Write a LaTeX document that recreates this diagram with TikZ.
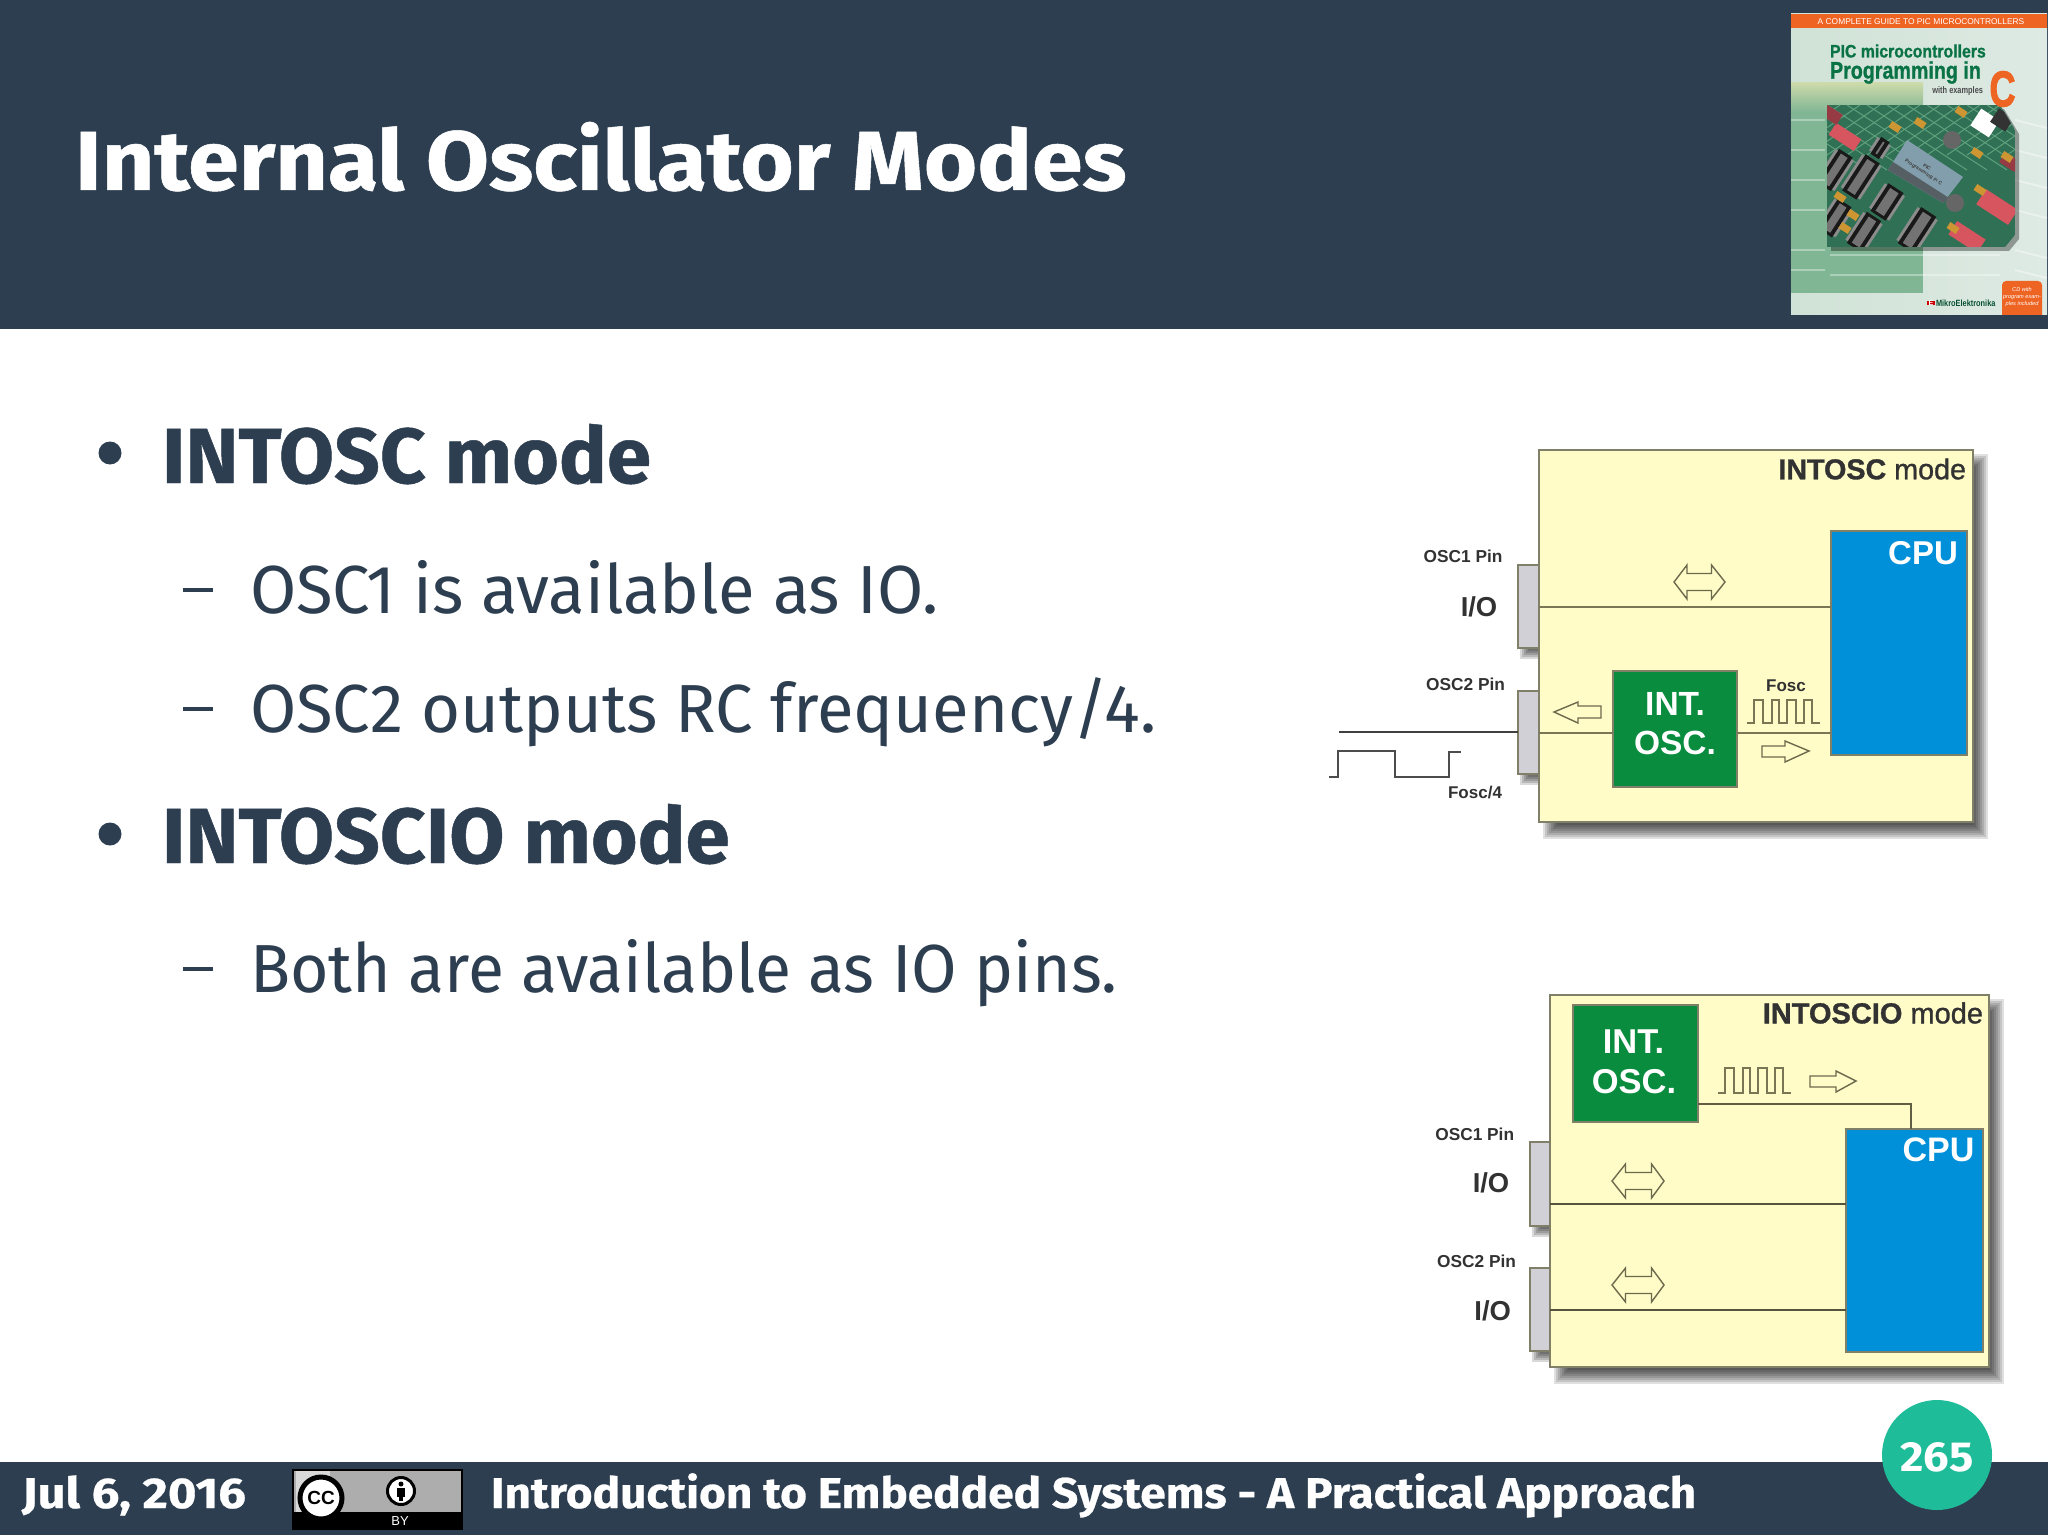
\documentclass[tikz,border=0pt]{standalone}
\usepackage{fontspec}
\setmainfont[BoldFeatures={FakeBold=0.6}]{Fira Sans}
\newfontfamily\arial{Liberation Sans}
\newfontfamily\arialm[FakeBold=1.1]{Liberation Sans}
\newfontfamily\arialh[FakeBold=2.5]{Liberation Sans}
\usetikzlibrary{calc}
\definecolor{navy}{RGB}{45,62,80}
\definecolor{teal}{RGB}{30,188,152}
\definecolor{paper}{RGB}{255,252,200}
\definecolor{edge}{RGB}{128,128,105}
\definecolor{wire}{RGB}{120,118,85}
\definecolor{osc}{RGB}{9,140,62}
\definecolor{cpu}{RGB}{0,144,218}
\definecolor{pin}{RGB}{208,208,214}
\definecolor{ink}{RGB}{50,50,50}
\definecolor{bookg}{RGB}{10,115,70}
\definecolor{booko}{RGB}{238,100,35}
\definecolor{pcb}{RGB}{48,112,85}
\definecolor{trace}{RGB}{95,160,125}
\definecolor{covl}{RGB}{208,226,214}
\definecolor{covr}{RGB}{222,234,228}
\definecolor{covg}{RGB}{128,182,148}
\definecolor{covb}{RGB}{205,218,170}
\definecolor{lcdc}{RGB}{130,158,172}
\definecolor{lcdd}{RGB}{85,95,100}
\definecolor{dipr}{RGB}{215,85,95}
\definecolor{jump}{RGB}{205,150,50}
\newcommand{\px}[1]{\fontsize{\dimexpr#1pt/2\relax}{\dimexpr#1pt*3/5\relax}\selectfont}
\newcommand{\softshadow}[4]{\foreach \s in {0,2,4,6,8,10,12,14}{\fill[black,opacity=.12] (#1+18-\s,#2+18-\s) rectangle (#3+1+\s,#4+3+\s);}}
\newcommand{\pinshadow}[4]{\foreach \s in {0,2,4,6,8}{\fill[black,opacity=.15] (#1+10-\s,#2+10-\s) rectangle (#3,#4+3+\s);}}
\newcommand{\dblarrow}[6]{\draw[blockarrow] (#1,#5) -- (#2,#6) -- (#2,#6+8.5) -- (#3,#6+8.5) -- (#3,#6) -- (#4,#5) -- (#3,#5+#5-#6) -- (#3,#5+#5-#6-8.5) -- (#2,#5+#5-#6-8.5) -- (#2,#5+#5-#6) -- cycle;}
\newcommand{\wavepulse}[3]{\draw[wave] (#1,#3) -- (#1+7,#3) -- (#1+7,#2) -- (#1+16,#2) -- (#1+16,#3) -- (#1+25,#3) -- (#1+25,#2) -- (#1+32,#2) -- (#1+32,#3) -- (#1+40,#3) -- (#1+40,#2) -- (#1+49,#2) -- (#1+49,#3) -- (#1+57,#3) -- (#1+57,#2) -- (#1+65,#2) -- (#1+65,#3) -- (#1+73,#3);}
\newcommand{\bpart}[5]{\begin{scope}[shift={(#1,#2)},rotate=-33]\fill[#5] (-#3/2,-#4/2) rectangle (#3/2,#4/2);\end{scope}}
\newcommand{\bchip}[4]{\begin{scope}[shift={(#1,#2)},rotate=-33]\fill[black!45] (-#3/2-3,-#4/2+2) rectangle (#3/2+3,#4/2-2);\fill[black!90] (-#3/2,-#4/2) rectangle (#3/2,#4/2);\fill[black!55] (-#3/2+4,-#4/2+3) rectangle (#3/2-4,#4/2-3);\end{scope}}
\tikzset{
 rbox/.style={rectangle,inner sep=0pt,outer sep=0pt,draw=edge,line width=1pt},
 lbl/.style={inner sep=0pt,outer sep=0pt,font=\arial},
 wireline/.style={draw=wire,line width=1pt},
 wave/.style={draw=wire,line width=.8pt},
 blockarrow/.style={draw=wire!90!black,line width=.7pt,fill=paper,line join=miter},
 txt/.style={inner sep=0pt,outer sep=0pt,anchor=base west,text=navy},
 foot/.style={inner sep=0pt,outer sep=0pt,anchor=base west,text=white,font=\bfseries},
}
\begin{document}
\begin{tikzpicture}[x=.5pt,y=-.5pt]
\useasboundingbox (0,0) rectangle (2048,1535);
\fill[white] (0,0) rectangle (2048,1535);
% header / footer
\fill[navy] (0,0) rectangle (2048,329);
\fill[navy] (0,1462) rectangle (2048,1535);
\node[txt,font=\bfseries\px{84},text=white,xscale=1.088] (title) at (75,190) {Internal Oscillator Modes};
% book cover
\begin{scope}
\clip (1791,14) rectangle (2047,315);
\shade[left color=covl, right color=covr] (1791,14) rectangle (2047,315);
\fill[covg] (1791,83) rectangle (1923,293);
\shade[top color=covb,bottom color=covg] (1791,83) rectangle (1923,112);
\foreach \y in {120,150,180,210,250,270}{\draw[white,opacity=.35,line width=1pt] (1791,\y) -- (1825,\y);\draw[white,opacity=.4,line width=1pt] (2015,\y) -- (2047,\y+8);}
\foreach \y in {255,275}{\draw[white,opacity=.35,line width=1pt] (1830,\y) -- (2000,\y);}
\fill[booko] (1791,14) rectangle (2047,28);
\fill[black,opacity=.35] (1831,109) -- (2004,109) -- (2019,134) -- (2019,239) -- (2009,251) -- (1831,251) -- cycle;
\begin{scope}
\clip (1827,105) -- (2000,105) -- (2015,130) -- (2015,235) -- (2005,247) -- (1827,247) -- cycle;
\fill[pcb] (1827,105) rectangle (2015,247);
\foreach \o in {-60,-40,...,200}{\draw[trace,line width=.5pt] (1827+\o,105) -- (1927+\o,170);\draw[trace,line width=.5pt] (1900+\o,105) -- (1827+\o,155);}
\bchip{1861}{177}{17}{43}
\bchip{1887}{202}{18}{33}
\bchip{1917}{230}{18}{43}
\bchip{1864}{232}{17}{37}
\bchip{1880}{148}{10}{20}
\bchip{1835}{170}{16}{40}
\bchip{1835}{218}{16}{36}
\fill[lcdc] (1907,140) -- (1963,177) -- (1943,203) -- (1888,170) -- cycle;
\fill[lcdd] (1893,162) -- (1949,198) -- (1943,203) -- (1888,170) -- cycle;
\node[lbl,font=\arial\bfseries\px{5},rotate=-33,text=black!75,align=center] (lcd) at (1925,170) {PIC\\Programming in C};
\bpart{1845}{137}{30}{14}{dipr}
\bpart{1832}{115}{18}{12}{dipr!70!black}
\bpart{1997}{207}{38}{18}{dipr}
\bpart{1967}{237}{34}{16}{dipr}
\bpart{2010}{162}{18}{12}{dipr!70!black}
\fill[black!60] (1952,140) circle (9);
\fill[black!60] (1955,203) circle (9);
\bpart{1985}{123}{22}{20}{white}
\bpart{2002}{120}{18}{16}{black!80}
\foreach \x/\y in {1920/123,1895/127,1961/112,1977/153,2007/157,1980/190,1953/228,1840/197,1853/215,1845/228}{\bpart{\x}{\y}{11}{7}{jump}}
\end{scope}
\fill[booko,rounded corners=2pt] (2002,281) rectangle (2042,330);
\end{scope}
\node[lbl,font=\arial\px{8.4},text=white] (guide) at (1921,22) {A COMPLETE GUIDE TO PIC MICROCONTROLLERS};
\node[lbl,font=\arialm\bfseries\px{18},text=bookg,xscale=.88,anchor=west] (t1) at (1830,51) {PIC microcontrollers};
\node[lbl,font=\arialm\bfseries\px{24},text=bookg,xscale=.82,anchor=west] (t2) at (1830,72.5) {Programming in};
\node[lbl,font=\arial\bfseries\px{9.5},text=black!70,xscale=.78,anchor=east] (t3) at (1983,91) {with examples};
\node[lbl,font=\arialh\bfseries\px{50},text=booko,xscale=.72] (t4) at (2002.5,89) {C};
\node[lbl,font=\arial\bfseries\px{7},text=white,fill=red!80!black,minimum width=4pt] (t5a) at (1931,303) {E};
\node[lbl,font=\arial\bfseries\px{9},text=bookg!70!black,xscale=.82,anchor=west] (t5) at (1936,303) {MikroElektronika};
\node[lbl,font=\arial\itshape\px{5.6},text=white,align=center] (t6) at (2022,297) {CD with\\program exam-\\ples included};
% body text
\fill[navy] (110,453) circle (11.5);
\fill[navy] (110,834) circle (11.5);
\fill[navy] (183,588) rectangle (213,592);
\fill[navy] (183,707) rectangle (213,711);
\fill[navy] (183,967) rectangle (213,971);
\node[txt,font=\bfseries\px{78},xscale=1.025] (b1) at (162,483) {INTOSC mode};
\node[txt,font=\px{68},xscale=.985] (b2) at (250,613) {OSC1 is available as IO.};
\node[txt,font=\px{68},xscale=.985] (b3) at (250,732) {OSC2 outputs RC frequency/4.};
\node[txt,font=\bfseries\px{78},xscale=1.025] (b4) at (162,863) {INTOSCIO mode};
\node[txt,font=\px{68},xscale=.97] (b5) at (250,992) {Both are available as IO pins.};
% diagram 1
\softshadow{1539}{450}{1973}{822}
\pinshadow{1518}{565}{1539}{648}
\pinshadow{1518}{691}{1539}{774}
\node[rbox,fill=paper,minimum width=217pt,minimum height=186pt] (boxA) at (1756,636) {};
\node[rbox,fill=pin,minimum width=10.5pt,minimum height=41.5pt] (pinA1) at (1528.5,606.5) {};
\node[rbox,fill=pin,minimum width=10.5pt,minimum height=41.5pt] (pinA2) at (1528.5,732.5) {};
\node[rbox,fill=cpu,minimum width=68pt,minimum height=112pt] (cpuA) at (1899,643) {};
\node[rbox,fill=osc,minimum width=62pt,minimum height=58pt] (oscA) at (1675,729) {};
\coordinate (extA) at (1339,732);
\draw[wireline] (pinA1.east) -- (pinA1.east -| cpuA.west);
\draw[wireline] (pinA2.east) -- (pinA2.east -| oscA.west);
\draw[wireline] (pinA2.east -| oscA.east) -- (pinA2.east -| cpuA.west);
\draw[wireline,draw=black!75] (extA) -- (extA -| pinA2.west);
\node[lbl,anchor=east,font=\arialm\px{28.7},text=ink] (mA) at (1966,469) {\textbf{INTOSC} mode};
\node[lbl,font=\arial\bfseries\px{33},text=white] (cA) at (1923,553) {CPU};
\node[lbl,font=\arial\bfseries\px{33.5},text=white] (iA) at (1675,704) {INT.};
\node[lbl,font=\arial\bfseries\px{33.5},text=white] (oA) at (1675,743) {OSC.};
\node[lbl,font=\arial\bfseries\px{17.3},text=ink] (p1A) at (1463,556) {OSC1 Pin};
\node[lbl,font=\arial\bfseries\px{17.3},text=ink] (p2A) at (1465.5,684) {OSC2 Pin};
\node[lbl,font=\arial\bfseries\px{27.4},text=ink] (ioA) at (1479,607) {I/O};
\node[lbl,font=\arial\bfseries\px{17},text=ink] (f4A) at (1475,793) {Fosc/4};
\node[lbl,font=\arial\bfseries\px{17},text=ink] (fA) at (1786,686) {Fosc};
\draw[wave,draw=black!70] (1329,777) -- (1338,777) -- (1338,751) -- (1395,751) -- (1395,777) -- (1449,777) -- (1449,752) -- (1461,752);
\wavepulse{1747}{700}{723}
\dblarrow{1674}{1687}{1711.5}{1725}{582}{565}
\draw[blockarrow] (1554,712) -- (1578,702) -- (1578,706) -- (1601,706) -- (1601,718) -- (1578,718) -- (1578,723) -- cycle;
\draw[blockarrow] (1809,751) -- (1785,741) -- (1785,746) -- (1762,746) -- (1762,757) -- (1785,757) -- (1785,762) -- cycle;
% diagram 2
\softshadow{1550}{995}{1989}{1367}
\pinshadow{1530}{1142}{1550}{1226}
\pinshadow{1530}{1268}{1550}{1351}
\node[rbox,fill=paper,minimum width=219.5pt,minimum height=186pt] (boxB) at (1769.5,1181) {};
\node[rbox,fill=pin,minimum width=10pt,minimum height=42pt] (pinB1) at (1540,1184) {};
\node[rbox,fill=pin,minimum width=10pt,minimum height=41.5pt] (pinB2) at (1540,1309.5) {};
\node[rbox,fill=cpu,minimum width=68.5pt,minimum height=111.5pt] (cpuB) at (1914.5,1240.5) {};
\node[rbox,fill=osc,minimum width=62.5pt,minimum height=58.5pt] (oscB) at (1635.5,1063.5) {};
\coordinate (turnB) at (1911,1104);
\coordinate (wB) at (1700,1204);
\draw[wireline,draw=wire!80!black] (oscB.east |- turnB) -- (turnB) -- (turnB |- cpuB.north);
\draw[wireline,draw=wire!70!black] (pinB1.east |- wB) -- (cpuB.west |- wB);
\draw[wireline,draw=wire!70!black] (pinB2.east) -- (pinB2.east -| cpuB.west);
\node[lbl,anchor=east,font=\arialm\px{29},text=ink] (mB) at (1983,1013) {\textbf{INTOSCIO} mode};
\node[lbl,font=\arial\bfseries\px{34},text=white] (cB) at (1938.5,1150) {CPU};
\node[lbl,font=\arial\bfseries\px{34.5},text=white] (iB) at (1633.5,1042) {INT.};
\node[lbl,font=\arial\bfseries\px{34.5},text=white] (oB) at (1634,1082) {OSC.};
\node[lbl,font=\arial\bfseries\px{17.3},text=ink] (p1B) at (1474.7,1134) {OSC1 Pin};
\node[lbl,font=\arial\bfseries\px{17.3},text=ink] (p2B) at (1476.6,1261) {OSC2 Pin};
\node[lbl,font=\arial\bfseries\px{27.4},text=ink] (io1B) at (1491,1183) {I/O};
\node[lbl,font=\arial\bfseries\px{27.4},text=ink] (io2B) at (1492.7,1311) {I/O};
\wavepulse{1718}{1068}{1093}
\draw[blockarrow] (1856,1081) -- (1836,1071) -- (1836,1076) -- (1810,1076) -- (1810,1087) -- (1836,1087) -- (1836,1092) -- cycle;
\dblarrow{1612}{1625.5}{1651.5}{1664}{1181}{1164}
\dblarrow{1612}{1625.5}{1651.5}{1664}{1285}{1268}
% footer
\node[foot,font=\bfseries\px{43},xscale=1.14] (date) at (22,1508) {Jul 6, 2016};
\fill[black] (292,1469) rectangle (463,1530);
\fill[black!32] (294,1471) rectangle (461,1512);
\fill[black!15] (296,1471) rectangle (330,1512);
\node[circle,draw=black,fill=white,line width=2.5pt,minimum size=21pt,inner sep=0pt,font=\arial\bfseries\px{19}] (cc) at (321,1498) {CC};
\node[circle,draw=black,fill=white,line width=1.5pt,minimum size=13.5pt,inner sep=0pt] (by) at (401,1491) {};
\fill[black] (401,1484) circle (2.5);
\fill[black] (397,1488) rectangle (405,1497);
\fill[black] (399,1497) rectangle (403,1501);
\node[lbl,font=\arial\px{13},text=white] (bytxt) at (400,1521) {BY};
\node[foot,font=\bfseries\px{43},xscale=1.068] (course) at (491,1508) {Introduction to Embedded Systems - A Practical Approach};
\node[circle,fill=teal,minimum size=55pt,inner sep=0pt,outer sep=0pt] (num) at (1937,1455) {};
\node[lbl,font=\fontspec{Fira Sans}\bfseries\px{42},text=white,xscale=1.08] (numtxt) at (1937,1457) {265};
\end{tikzpicture}
\end{document}
